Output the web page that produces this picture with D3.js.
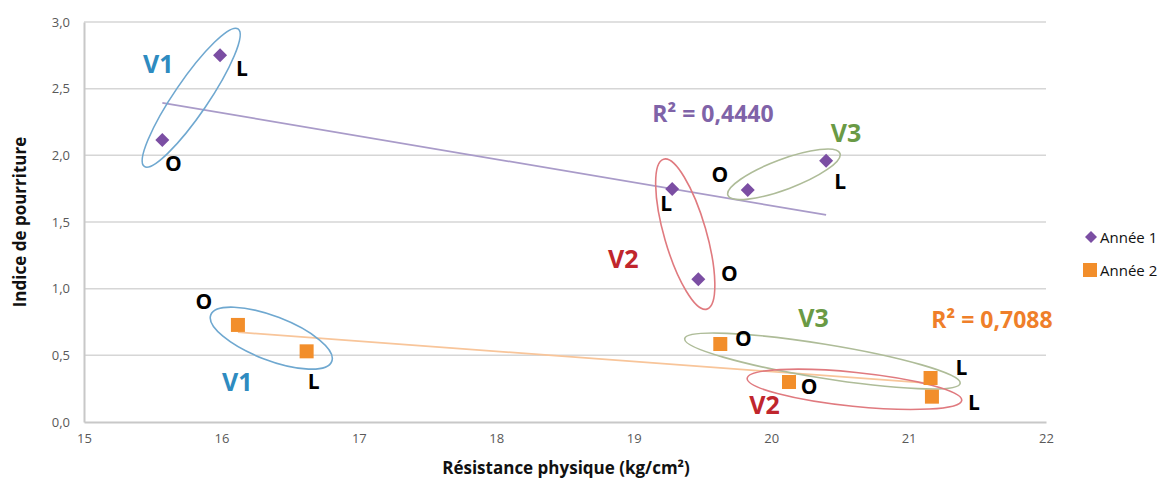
<!DOCTYPE html>
<html><head><meta charset="utf-8">
<script src="https://cdn.jsdelivr.net/npm/d3@7"></script>
<style>body{margin:0;background:#fff;font-family:"Open Sans",sans-serif;}</style>
</head><body><svg id="c" width="1168" height="481"></svg>
<script>
// ---- data ----
const seriesNames = ["Année 1", "Année 2"];
const pointNames = ["V1 O", "V1 L", "V2 L", "V2 O", "V3 O", "V3 L"];
const year1X = [15.57, 15.99, 19.28, 19.47, 19.83, 20.40];
const year1Y = [2.115, 2.75, 1.748, 1.07, 1.74, 1.96];
const year2Names = ["V1 O", "V1 L", "V3 O", "V2 O", "V3 L", "V2 L"];
const year2X = [16.12, 16.62, 19.63, 20.13, 21.16, 21.17];
const year2Y = [0.728, 0.53, 0.585, 0.30, 0.33, 0.19];
const xTicks = [15, 16, 17, 18, 19, 20, 21, 22];
const yTicks = [0, 0.5, 1, 1.5, 2, 2.5, 3];
const r2Labels = ["R² = 0,4440", "R² = 0,7088"];

// ---- layout ----
const svg = d3.select("#c");
const x = d3.scaleLinear().domain([15, 22]).range([84, 1046]);
const y = d3.scaleLinear().domain([0, 3]).range([422, 22]);
const colA = "#7b4ea3", colB = "#f28e2b";
const trendCol = ["#a99bc9", "#f8c59a"];
const blue = "#2e8bc0", red = "#c0262d", green = "#6a9a45";

// grid
svg.append("g").selectAll("line").data(yTicks.filter(d => d > 0)).join("line")
  .attr("x1", x(15)).attr("x2", x(22)).attr("y1", d => y(d)).attr("y2", d => y(d))
  .attr("stroke", "#d6d6d6").attr("stroke-width", 1.5);

// axes
const yAxis = svg.append("g").attr("transform", `translate(${x(15)},0)`)
  .call(d3.axisLeft(y).tickValues(yTicks).tickSize(0).tickPadding(14)
    .tickFormat(d => d3.format(".1f")(d).replace(".", ",")));
const xAxis = svg.append("g").attr("transform", `translate(0,${y(0)})`)
  .call(d3.axisBottom(x).tickValues(xTicks).tickSize(0).tickPadding(12).tickFormat(d3.format("d")));
[xAxis, yAxis].forEach(g => {
  g.select(".domain").attr("stroke", "#c8c8c8").attr("stroke-width", 2);
  g.selectAll("text").attr("fill", "#595959").style("font-size", "13px").style("font-family", "Open Sans");
});

// axis titles
svg.append("text").attr("x", 566).attr("y", 474).attr("text-anchor", "middle")
  .style("font-size", "17px").style("font-weight", "bold").attr("fill", "#111")
  .text("Résistance physique (kg/cm²)");
svg.append("text").attr("transform", "translate(26,222) rotate(-90)").attr("text-anchor", "middle")
  .style("font-size", "17px").style("font-weight", "bold").attr("fill", "#111")
  .text("Indice de pourriture");

// trendlines (least squares)
function trend(xs, ys) {
  const mx = d3.mean(xs), my = d3.mean(ys);
  const s = d3.sum(xs, (v, i) => (v - mx) * (ys[i] - my)) / d3.sum(xs, v => (v - mx) ** 2);
  const x0 = d3.min(xs), x1 = d3.max(xs);
  return [[x0, my + s * (x0 - mx)], [x1, my + s * (x1 - mx)]];
}
[[year1X, year1Y], [year2X, year2Y]].forEach(([xs, ys], i) => {
  const t = trend(xs, ys);
  svg.append("line").attr("x1", x(t[0][0])).attr("y1", y(t[0][1]))
    .attr("x2", x(t[1][0])).attr("y2", y(t[1][1]))
    .attr("stroke", trendCol[i]).attr("stroke-width", 1.8);
});

// ellipses (derived from the two points of each group)
const pts1 = year1X.map((v, i) => ({ name: pointNames[i], px: x(v), py: y(year1Y[i]) }));
const pts2 = year2X.map((v, i) => ({ name: year2Names[i], px: x(v), py: y(year2Y[i]) }));
const ellipses = [
  { pts: pts1, g: "V1", pad: 32, minor: 17, color: "#6fa8d0", shift: [0, 0] },
  { pts: pts1, g: "V2", pad: 31, minor: 21, color: "#e07a7f", shift: [0, 0] },
  { pts: pts1, g: "V3", pad: 18, minor: 15, color: "#aebc98", shift: [-3, -1] },
  { pts: pts2, g: "V1", pad: 28, minor: 22, color: "#6fa8d0", shift: [-1, 0] },
  { pts: pts2, g: "V3", pad: 33, minor: 17, color: "#aebc98", shift: [-3, 0] },
  { pts: pts2, g: "V2", pad: 36, minor: 17, color: "#e07a7f", shift: [-6, 0] }
];
ellipses.forEach(e => {
  const pair = e.pts.filter(p => p.name.startsWith(e.g));
  const [a, b] = pair;
  const cx = (a.px + b.px) / 2 + e.shift[0], cy = (a.py + b.py) / 2 + e.shift[1];
  const ang = Math.atan2(b.py - a.py, b.px - a.px) * 180 / Math.PI;
  const half = Math.hypot(b.px - a.px, b.py - a.py) / 2;
  svg.append("ellipse").attr("cx", 0).attr("cy", 0).attr("rx", half + e.pad).attr("ry", e.minor)
    .attr("transform", `translate(${cx},${cy}) rotate(${ang})`)
    .attr("fill", "none").attr("stroke", e.color).attr("stroke-width", 1.6);
});

// markers
svg.append("g").selectAll("path").data(pts1).join("path")
  .attr("transform", d => `translate(${d.px},${d.py})`)
  .attr("d", d3.symbol(d3.symbolDiamond2, 11 * 11 / 2 * 1.0).size(70)())
  .attr("d", "M0,-7L7,0L0,7L-7,0Z")
  .attr("fill", colA);
svg.append("g").selectAll("rect").data(pts2).join("rect")
  .attr("x", d => d.px - 7).attr("y", d => d.py - 7).attr("width", 14).attr("height", 14)
  .attr("fill", colB);

// point letter labels (offsets relative to points)
const letterOff1 = { "V1 O": [11, 23], "V1 L": [22, 13], "V2 L": [-6, 14], "V2 O": [31, -6], "V3 O": [-28, -16], "V3 L": [14, 20] };
const letterOff2 = { "V1 O": [-34, -24], "V1 L": [7, 30], "V3 O": [23, -6], "V2 O": [20, 4], "V3 L": [31, -11], "V2 L": [42, 5] };
[[pts1, letterOff1], [pts2, letterOff2]].forEach(([pts, off]) => {
  svg.append("g").selectAll("text").data(pts).join("text")
    .attr("x", d => d.px + off[d.name][0]).attr("y", d => d.py + off[d.name][1])
    .attr("text-anchor", "middle").attr("dominant-baseline", "central")
    .style("font-size", "21px").style("font-weight", "bold").attr("fill", "#000")
    .text(d => d.name.split(" ")[1]);
});

// group labels (relative to the group's midpoint)
const groupCol = { V1: blue, V2: red, V3: green };
const groupLab = [
  { pts: pts1, g: "V1", off: [-33, -35] },
  { pts: pts1, g: "V2", off: [-62, 24] },
  { pts: pts1, g: "V3", off: [59, -43] },
  { pts: pts2, g: "V1", off: [-35, 43] },
  { pts: pts2, g: "V3", off: [-12, -44] },
  { pts: pts2, g: "V2", off: [-96, 15] }
];
groupLab.forEach(gl => {
  const pair = gl.pts.filter(p => p.name.startsWith(gl.g));
  const mx = d3.mean(pair, p => p.px), my = d3.mean(pair, p => p.py);
  svg.append("text").attr("x", mx + gl.off[0]).attr("y", my + gl.off[1])
    .attr("text-anchor", "middle").attr("dominant-baseline", "central")
    .style("font-size", "25px").style("font-weight", "bold").attr("fill", groupCol[gl.g])
    .text(gl.g);
});

// R² labels
svg.append("text").attr("x", 713).attr("y", 113).attr("text-anchor", "middle").attr("dominant-baseline", "central")
  .style("font-size", "23px").style("font-weight", "bold").attr("fill", "#7f63a8").text(r2Labels[0]);
svg.append("text").attr("x", 992).attr("y", 319).attr("text-anchor", "middle").attr("dominant-baseline", "central")
  .style("font-size", "23px").style("font-weight", "bold").attr("fill", "#ef7f2a").text(r2Labels[1]);

// legend
const leg = svg.append("g");
seriesNames.forEach((n, i) => {
  const ly = 237 + i * 33;
  if (i === 0) leg.append("path").attr("d", `M1091,${ly - 6}L1097,${ly}L1091,${ly + 6}L1085,${ly}Z`).attr("fill", colA);
  else leg.append("rect").attr("x", 1083).attr("y", ly - 7).attr("width", 14).attr("height", 14).attr("fill", colB);
  leg.append("text").attr("x", 1100).attr("y", ly).attr("dominant-baseline", "central")
    .style("font-size", "15px").attr("fill", "#111").text(n);
});
</script></body></html>
